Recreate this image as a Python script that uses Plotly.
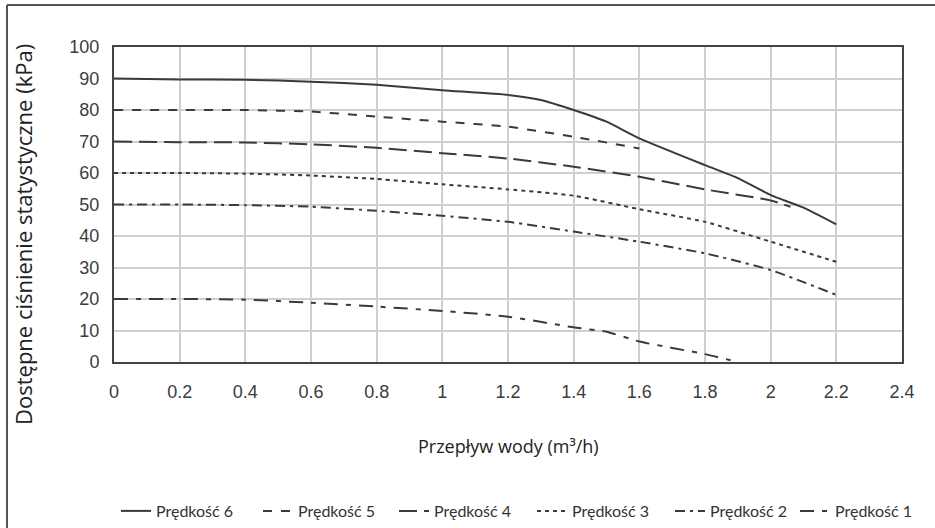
import plotly.graph_objects as go

# Data
x6 = [0, 0.2, 0.4, 0.6, 0.8, 1.0, 1.2, 1.3, 1.4, 1.5, 1.6, 1.8, 1.9, 2.0, 2.1, 2.2]
y6 = [90, 89.7, 89.6, 89.0, 88.0, 86.3, 84.8, 83.2, 80.0, 76.3, 71.0, 62.5, 58.4, 53.0, 49.0, 43.7]

x5 = [0, 0.2, 0.4, 0.6, 0.8, 1.0, 1.2, 1.4, 1.6]
y5 = [80, 80, 80, 79.5, 77.9, 76.3, 74.7, 71.5, 67.8]

x4 = [0, 0.2, 0.4, 0.6, 0.8, 1.0, 1.2, 1.4, 1.6, 1.8, 2.0, 2.06]
y4 = [70, 69.8, 69.7, 69.1, 68.0, 66.3, 64.6, 62.0, 58.8, 54.8, 51.3, 49.3]

x3 = [0, 0.2, 0.4, 0.6, 0.8, 1.0, 1.2, 1.4, 1.6, 1.8, 2.0, 2.2]
y3 = [60, 60, 59.8, 59.2, 58.1, 56.4, 54.8, 52.8, 48.5, 44.5, 38.2, 31.8]

x2 = [0, 0.2, 0.4, 0.6, 0.8, 1.0, 1.2, 1.4, 1.6, 1.8, 2.0, 2.2]
y2 = [50, 50, 49.8, 49.3, 48.0, 46.4, 44.5, 41.4, 38.2, 34.5, 29.2, 21.3]

x1 = [0, 0.2, 0.4, 0.6, 0.8, 1.0, 1.2, 1.4, 1.5, 1.6, 1.8, 1.9]
y1 = [20, 20, 19.8, 18.8, 17.6, 16.2, 14.4, 11.0, 9.6, 6.5, 2.5, 0]

names = ["Prędkość 6", "Prędkość 5", "Prędkość 4", "Prędkość 3", "Prędkość 2", "Prędkość 1"]
xs = [x6, x5, x4, x3, x2, x1]
ys = [y6, y5, y4, y3, y2, y1]
dashes = ["solid", "9px,9px", "18px,7px", "4px,4px", "10px,5px,3px,5px", "14px,8px,5px,8px"]

x_ticks = [0, 0.2, 0.4, 0.6, 0.8, 1, 1.2, 1.4, 1.6, 1.8, 2, 2.2, 2.4]
y_ticks = [0, 10, 20, 30, 40, 50, 60, 70, 80, 90, 100]

line_color = "#3a3a3a"

L, R, T, B = 114, 33, 47, 166
W, H = 935, 528
pw, ph = W - L - R, H - T - B

def px_to_paper_x(px):
    return (px - L) / pw

def px_to_paper_y(py):
    return (H - B - py) / ph

legend_ids = ["legend", "legend2", "legend3", "legend4", "legend5", "legend6"]
legend_left_px = [116, 258, 394, 532, 670, 795]

fig = go.Figure()
for n, xv, yv, d, lid in zip(names, xs, ys, dashes, legend_ids):
    fig.add_trace(go.Scatter(
        x=xv, y=yv, name=n, mode="lines", legend=lid,
        line=dict(color=line_color, width=2, dash=d, shape="spline", smoothing=0.5),
    ))

tick_font = dict(family="Liberation Sans, Arial, sans-serif", size=18, color="#3c3c3c")
legend_font = dict(family="Lato, sans-serif", size=16, color="#333")

legend_layout = {}
for lid, lx in zip(legend_ids, legend_left_px):
    legend_layout[lid] = dict(
        orientation="h", xref="container", yref="container",
        x=lx / W, y=(H - 494) / H, xanchor="left", yanchor="top",
        font=legend_font, itemwidth=30, bgcolor="rgba(0,0,0,0)",
    )

fig.update_layout(
    width=W, height=H,
    margin=dict(l=L, r=R, t=T, b=B, pad=0),
    paper_bgcolor="white", plot_bgcolor="white",
    showlegend=True,
    **legend_layout,
    xaxis=dict(
        range=[0, 2.4], tickvals=x_ticks, ticktext=[f"{v:g}" for v in x_ticks],
        showgrid=True, gridcolor="#cfcfd3", gridwidth=1.5,
        showline=True, linecolor="#444", linewidth=2, mirror=True,
        zeroline=False, ticks="", ticklabelstandoff=12, tickfont=tick_font,
    ),
    yaxis=dict(
        range=[0, 100], tickvals=y_ticks,
        showgrid=True, gridcolor="#cfcfd3", gridwidth=1.5,
        showline=True, linecolor="#444", linewidth=2, mirror=True,
        zeroline=False, ticks="", ticklabelstandoff=9, tickfont=tick_font,
    ),
    annotations=[
        dict(text="Dostępne ciśnienie statystyczne (kPa)", textangle=-90,
             xref="paper", yref="paper", x=px_to_paper_x(23), y=px_to_paper_y(235),
             xanchor="center", yanchor="middle", showarrow=False,
             font=dict(family="Open Sans, sans-serif", size=22, color="#222")),
        dict(text="Przepływ wody (m³/h)",
             xref="paper", yref="paper", x=px_to_paper_x(508), y=px_to_paper_y(446),
             xanchor="center", yanchor="middle", showarrow=False,
             font=dict(family="Open Sans, sans-serif", size=18, color="#222")),
    ],
    shapes=[
        dict(type="line", xref="paper", yref="paper",
             x0=px_to_paper_x(7), y0=px_to_paper_y(5), x1=px_to_paper_x(935), y1=px_to_paper_y(5),
             line=dict(color="#555", width=2)),
        dict(type="line", xref="paper", yref="paper",
             x0=px_to_paper_x(7), y0=px_to_paper_y(5), x1=px_to_paper_x(7), y1=px_to_paper_y(528),
             line=dict(color="#555", width=2)),
    ],
)

fig.write_html(
    "out.html",
    config={"displayModeBar": False},
    post_script="document.body.style.margin='0';document.body.style.overflow='hidden';",
)
